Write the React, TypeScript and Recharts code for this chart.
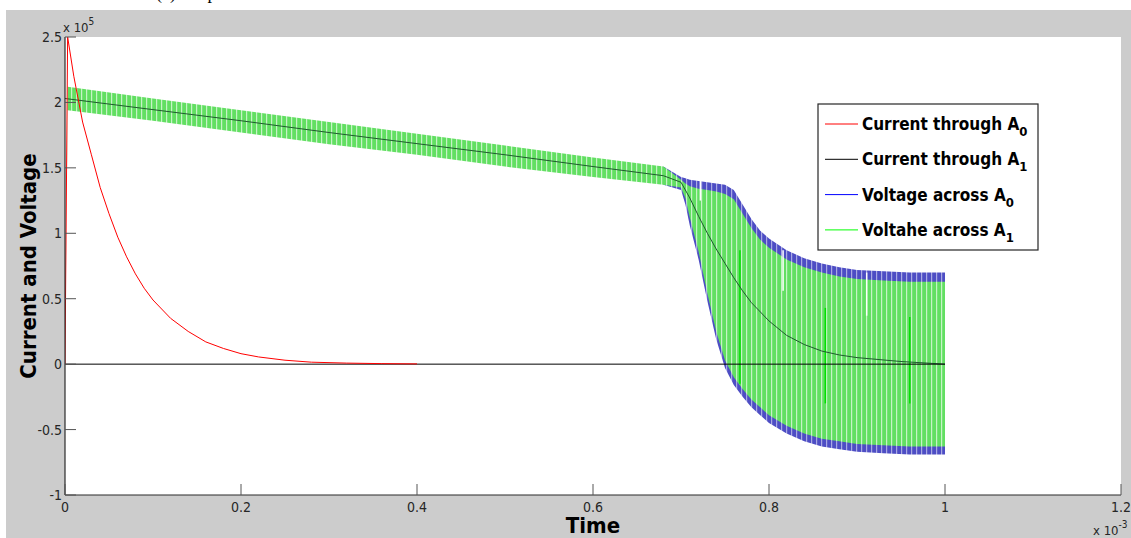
import React from 'react';
import { ComposedChart, Line, Area, XAxis, YAxis, CartesianGrid, ReferenceLine } from 'recharts';

// time in units of 1e-3 s, values in units of 1e5
const xTicks = [0, 0.2, 0.4, 0.6, 0.8, 1, 1.2];
const yTicks = [-1, -0.5, 0, 0.5, 1, 1.5, 2, 2.5];

const currentA0: [number, number][] = [
  [0, 0], [0.003, 2.5], [0.01, 2.2], [0.02, 1.85], [0.03, 1.6], [0.04, 1.35],
  [0.05, 1.15], [0.06, 0.97], [0.07, 0.82], [0.08, 0.69], [0.09, 0.58], [0.1, 0.49],
  [0.12, 0.35], [0.14, 0.25], [0.16, 0.17], [0.18, 0.12], [0.2, 0.08], [0.22, 0.055],
  [0.25, 0.03], [0.28, 0.015], [0.32, 0.008], [0.36, 0.004], [0.4, 0.002],
];

const currentA1: [number, number][] = [[0, 0], [1, 0]];

const centreTrace: [number, number][] = [
  [0, 2.03], [0.1, 1.945], [0.2, 1.86], [0.3, 1.77], [0.4, 1.685], [0.5, 1.6],
  [0.6, 1.51], [0.68, 1.44], [0.7, 1.39], [0.71, 1.27], [0.72, 1.13], [0.73, 1.0],
  [0.74, 0.88], [0.75, 0.77], [0.76, 0.66], [0.77, 0.56], [0.78, 0.47], [0.8, 0.33],
  [0.82, 0.22], [0.84, 0.15], [0.86, 0.1], [0.88, 0.07], [0.9, 0.05], [0.95, 0.02], [1, 0],
];

// [t, low envelope, high envelope]
const voltageA0: [number, number, number][] = [
  [0.68, 1.37, 1.51], [0.7, 1.33, 1.43], [0.705, 1.22, 1.42], [0.71, 1.06, 1.41],
  [0.72, 0.8, 1.4], [0.73, 0.48, 1.39], [0.74, 0.19, 1.38], [0.75, -0.03, 1.37],
  [0.76, -0.16, 1.33], [0.77, -0.25, 1.22], [0.78, -0.33, 1.11], [0.79, -0.39, 1.02],
  [0.8, -0.45, 0.96], [0.82, -0.53, 0.87], [0.84, -0.59, 0.81], [0.86, -0.63, 0.77],
  [0.88, -0.65, 0.74], [0.9, -0.67, 0.72], [0.93, -0.68, 0.71], [0.96, -0.69, 0.7],
  [1, -0.69, 0.7],
];

const voltageA1: [number, number, number][] = [
  [0, 0, 0], [0.003, 1.94, 2.12], [0.1, 1.86, 2.03], [0.2, 1.77, 1.94], [0.3, 1.68, 1.85],
  [0.4, 1.6, 1.76], [0.5, 1.51, 1.67], [0.6, 1.43, 1.58], [0.68, 1.37, 1.51],
  [0.7, 1.35, 1.41], [0.705, 1.27, 1.38], [0.71, 1.12, 1.36], [0.72, 0.86, 1.34],
  [0.73, 0.54, 1.33], [0.74, 0.25, 1.32], [0.75, 0.03, 1.3], [0.76, -0.1, 1.26],
  [0.77, -0.19, 1.15], [0.78, -0.27, 1.04], [0.79, -0.33, 0.95], [0.8, -0.39, 0.89],
  [0.82, -0.47, 0.8], [0.84, -0.53, 0.74], [0.86, -0.57, 0.7], [0.88, -0.59, 0.67],
  [0.9, -0.61, 0.65], [0.93, -0.62, 0.64], [0.96, -0.63, 0.63], [1, -0.63, 0.63],
];

// isolated glitches inside the oscillating band: [t, low, high]
const greenSpikes: [number, number, number][] = [
  [0.767, -0.15, 0.87], [0.864, -0.3, 0.43], [0.96, -0.3, 0.36],
];
const gapSpikes: [number, number, number][] = [
  [0.722, 1.25, 1.4], [0.816, 0.56, 0.87], [0.911, 0.37, 0.7],
];

const legendNames = ['Current through A', 'Current through A', 'Voltage across A', 'Voltahe across A'];
const legendSubs = ['0', '1', '0', '1'];
const legendColors = ['#ff0000', '#000000', '#0000ff', '#00ff00'];

type Row = { t: number; ia0?: number; ia1?: number; mid?: number; va0?: [number, number]; va1?: [number, number] };
const rowMap = new Map<number, Row>();
const getRow = (t: number): Row => {
  if (!rowMap.has(t)) rowMap.set(t, { t });
  return rowMap.get(t)!;
};
currentA0.forEach(([t, v]) => { getRow(t).ia0 = v; });
currentA1.forEach(([t, v]) => { getRow(t).ia1 = v; });
centreTrace.forEach(([t, v]) => { getRow(t).mid = v; });
voltageA0.forEach(([t, lo, hi]) => { getRow(t).va0 = [lo, hi]; });
voltageA1.forEach(([t, lo, hi]) => { getRow(t).va1 = [lo, hi]; });
const rows = Array.from(rowMap.values()).sort((a, b) => a.t - b.t);

const tickFont = "'Liberation Sans Narrow', 'DejaVu Sans Condensed', Arial, sans-serif";
const titleFont = "'DejaVu Sans Condensed', 'Liberation Sans', Arial, sans-serif";
const TL = 11;

const BottomTick = (p: any) => (
  <g>
    <line x1={p.x} y1={p.y} x2={p.x} y2={p.y - TL} stroke="#555" strokeWidth={1} />
    <text x={p.x} y={p.y + 17} textAnchor="middle" fontSize={14} fill="#262626" fontFamily={tickFont}>
      {String(p.payload.value)}
    </text>
  </g>
);
const TopTick = (p: any) => (
  <line x1={p.x} y1={p.y} x2={p.x} y2={p.y + TL} stroke="#555" strokeWidth={1} />
);
const LeftTick = (p: any) => (
  <g>
    <line x1={p.x} y1={p.y} x2={p.x + TL} y2={p.y} stroke="#555" strokeWidth={1} />
    <text x={p.x - 3} y={p.y + 5} textAnchor="end" fontSize={14} fill="#262626" fontFamily={tickFont}>
      {String(p.payload.value)}
    </text>
  </g>
);
const RightTick = (p: any) => (
  <line x1={p.x} y1={p.y} x2={p.x - TL} y2={p.y} stroke="#555" strokeWidth={1} />
);

export default function App() {
  return (
    <div style={{ position: 'absolute', left: 0, top: 0, width: 1131, height: 538, background: '#fff', overflow: 'hidden' }}>
      <div style={{ position: 'absolute', left: 6, top: 10, width: 1125, height: 528, background: '#cccccc' }}>
        <ComposedChart width={1125} height={528} data={rows} margin={{ top: 27, right: 10, bottom: 0, left: 0 }}>
          <defs>
            <pattern id="greenStripes" patternUnits="userSpaceOnUse" width="5" height="10">
              <rect width="5" height="10" fill="#62df62" />
              <rect x="0" width="1.2" height="10" fill="#c6f3c6" />
            </pattern>
            <pattern id="blueStripes" patternUnits="userSpaceOnUse" width="5" height="10">
              <rect width="5" height="10" fill="#4d4dc4" />
              <rect x="0" width="1.2" height="10" fill="#a9a9e4" />
            </pattern>
          </defs>
          <CartesianGrid xAxisId="b" yAxisId="l" fill="#ffffff" horizontal={false} vertical={false} stroke="none" />
          <XAxis xAxisId="b" dataKey="t" type="number" domain={[0, 1.2]} ticks={xTicks} interval={0}
            height={43} tickSize={0} tickMargin={0} tick={<BottomTick />} tickLine={false}
            axisLine={{ stroke: '#2b2b2b', strokeWidth: 1.2 }} allowDataOverflow />
          <XAxis xAxisId="top" orientation="top" dataKey="t" type="number" domain={[0, 1.2]} ticks={xTicks} interval={0}
            height={0} tickSize={0} tickMargin={0} tick={<TopTick />} tickLine={false}
            axisLine={{ stroke: '#2b2b2b', strokeWidth: 1.2 }} allowDataOverflow />
          <YAxis yAxisId="l" type="number" domain={[-1, 2.5]} ticks={yTicks} interval={0}
            width={59} tickSize={0} tickMargin={0} tick={<LeftTick />} tickLine={false}
            axisLine={{ stroke: '#2b2b2b', strokeWidth: 1.2 }} allowDataOverflow />
          <YAxis yAxisId="r" orientation="right" type="number" domain={[-1, 2.5]} ticks={yTicks} interval={0}
            width={0} tickSize={0} tickMargin={0} tick={<RightTick />} tickLine={false}
            axisLine={{ stroke: '#2b2b2b', strokeWidth: 1.2 }} allowDataOverflow />
          <Area xAxisId="b" yAxisId="l" type="linear" dataKey="va0" name="Voltage across A0" stroke="none"
            fill="url(#blueStripes)" fillOpacity={1} connectNulls dot={false} activeDot={false} isAnimationActive={false} />
          <Area xAxisId="b" yAxisId="l" type="linear" dataKey="va1" name="Voltahe across A1" stroke="none"
            fill="url(#greenStripes)" fillOpacity={1} connectNulls dot={false} activeDot={false} isAnimationActive={false} />
          {gapSpikes.map(([t, lo, hi], i) => (
            <ReferenceLine key={'g' + i} xAxisId="b" yAxisId="l" segment={[{ x: t, y: lo }, { x: t, y: hi }]}
              stroke="#ffffff" strokeWidth={1.5} ifOverflow="visible" />
          ))}
          {greenSpikes.map(([t, lo, hi], i) => (
            <ReferenceLine key={'s' + i} xAxisId="b" yAxisId="l" segment={[{ x: t, y: lo }, { x: t, y: hi }]}
              stroke="#00e000" strokeWidth={1.5} ifOverflow="visible" />
          ))}
          <Line xAxisId="b" yAxisId="l" type="linear" dataKey="mid" stroke="#1f5a2e" strokeWidth={1}
            connectNulls dot={false} activeDot={false} isAnimationActive={false} legendType="none" />
          <Line xAxisId="b" yAxisId="l" type="linear" dataKey="ia1" name="Current through A1" stroke="#000000" strokeWidth={1}
            connectNulls dot={false} activeDot={false} isAnimationActive={false} />
          <Line xAxisId="b" yAxisId="l" type="linear" dataKey="ia0" name="Current through A0" stroke="#ff0000" strokeWidth={1}
            connectNulls dot={false} activeDot={false} isAnimationActive={false} />
        </ComposedChart>
      </div>
      <svg width={1131} height={538} style={{ position: 'absolute', left: 0, top: 0, pointerEvents: 'none' }}>
        <text x={156} y={-1} fontFamily="'Liberation Serif', serif" fontSize={18} fill="#000">(c)  Output</text>
        <text x={63} y={32} fontFamily={tickFont} fontSize={13} fill="#262626">
          x 10<tspan dy={-7} fontSize={10}>5</tspan>
        </text>
        <text x={1093} y={535} fontFamily={tickFont} fontSize={13} fill="#262626">
          x 10<tspan dy={-7} fontSize={10}>-3</tspan>
        </text>
        <text x={0} y={0} transform="translate(36,266) rotate(-90)" textAnchor="middle"
          fontFamily={titleFont} fontSize={22} fontWeight="bold" fill="#000">Current and Voltage</text>
        <text x={593} y={533} textAnchor="middle" fontFamily={titleFont} fontSize={22} fontWeight="bold" fill="#000">Time</text>
        <rect x={818} y={104} width={220} height={146} fill="#fff" stroke="#262626" strokeWidth={1.2} />
        {legendNames.map((name, i) => (
          <g key={i}>
            <line x1={825} x2={858} y1={124 + i * 35.3} y2={124 + i * 35.3} stroke={legendColors[i]} strokeWidth={1} />
            <text x={862} y={124 + i * 35.3 + 6} fontFamily={titleFont} fontSize={17} fontWeight="bold" fill="#000">
              {name}<tspan dy={6} fontSize={13}>{legendSubs[i]}</tspan>
            </text>
          </g>
        ))}
      </svg>
    </div>
  );
}
